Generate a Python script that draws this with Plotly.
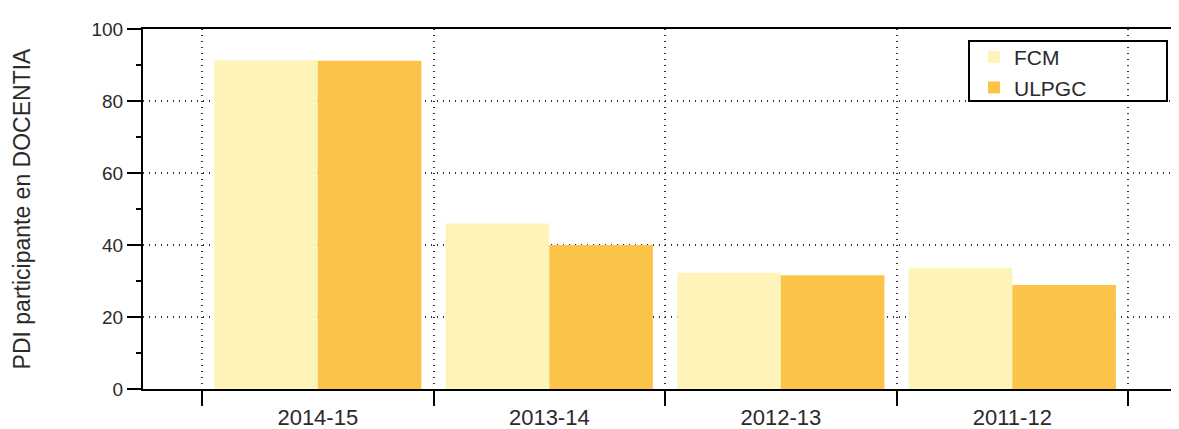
import plotly.graph_objects as go

categories = ["2014-15", "2013-14", "2012-13", "2011-12"]
fcm = [91.3, 46.0, 32.3, 33.7]
ulpgc = [91.2, 40.0, 31.6, 28.9]
series_names = ["FCM", "ULPGC"]
colors = ["#FEF3B9", "#FBC448"]

fig = go.Figure()
for name, vals, col in zip(series_names, [fcm, ulpgc], colors):
    fig.add_trace(go.Bar(x=categories, y=vals, name=name, marker_color=col,
                         marker_line_width=0))

# page body has an 8px margin; compensate so the plot lands where the reference has it
OFF = 8
W, H = 1179 - OFF, 429 - OFF
ml, mr, mt, mb = 143 - OFF, 0, 29 - OFF, 40
pw, ph = W - ml - mr, H - mt - mb

def px_x(p):  # page pixel -> paper x
    return (p - OFF - ml) / pw

def px_y(p):  # page pixel -> paper y
    return (H - mb - (p - OFF)) / ph

fig.update_layout(
    width=W, height=H,
    margin=dict(l=ml, r=mr, t=mt, b=mb, autoexpand=False),
    paper_bgcolor="white", plot_bgcolor="white",
    barmode="group", bargap=0.105, bargroupgap=0,
    font=dict(family="Liberation Sans, Arial, sans-serif", size=18, color="#2a2a2a"),
    showlegend=True,
    legend=dict(x=px_x(974), y=px_y(37), xanchor="left", yanchor="top",
                bgcolor="rgba(0,0,0,0)", borderwidth=0,
                font=dict(size=21, color="#2a2a2a"), tracegroupgap=0),
    shapes=[dict(type="rect", xref="paper", yref="paper",
                 x0=px_x(969), x1=px_x(1167), y0=px_y(101), y1=px_y(41),
                 line=dict(color="black", width=2), fillcolor="rgba(0,0,0,0)",
                 layer="above")],
)
grid_dash = "1px,5px"
fig.update_xaxes(
    type="category", range=[-0.755, 3.72], automargin=False,
    tickson="boundaries", ticks="outside", ticklen=15, tickwidth=1.5, tickcolor="black",
    showline=True, linecolor="black", linewidth=2, mirror=True,
    showgrid=True, gridcolor="#333", griddash=grid_dash, gridwidth=1.5,
    tickfont=dict(size=22), ticklabelstandoff=8, fixedrange=True,
)
fig.update_yaxes(
    range=[0, 100], dtick=20, ticks="outside", ticklen=14, tickwidth=1.5, tickcolor="black",
    showline=True, linecolor="black", linewidth=2, automargin=False,
    showgrid=True, gridcolor="#333", griddash=grid_dash, gridwidth=1.5,
    zeroline=False,
    minor=dict(dtick=10, ticks="outside", ticklen=5, tickcolor="black", showgrid=False),
    title=dict(text="PDI participante en DOCENTIA", font=dict(size=23), standoff=54),
    tickfont=dict(size=19),
)
fig.write_html("out.html")
